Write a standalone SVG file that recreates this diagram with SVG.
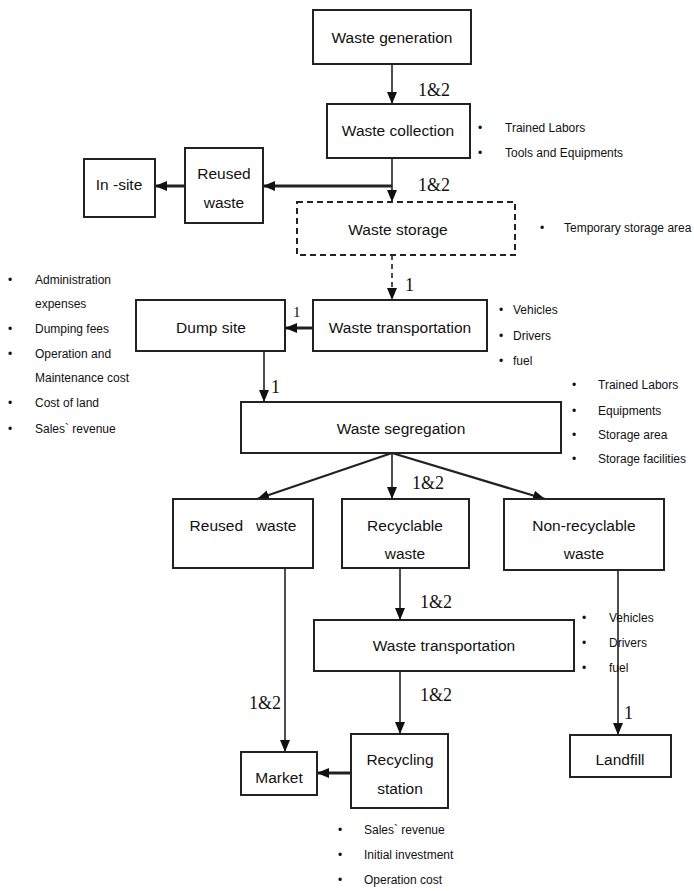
<svg xmlns="http://www.w3.org/2000/svg" width="694" height="891" viewBox="0 0 694 891">
<style>
.box{fill:#fff;stroke:#222;stroke-width:2}
.dash{fill:#fff;stroke:#222;stroke-width:2;stroke-dasharray:6,4}
.lbl{font-family:"Liberation Sans",Arial,sans-serif;font-size:15.5px;fill:#111;text-anchor:middle;dominant-baseline:central}
.bul{font-family:"Liberation Sans",Arial,sans-serif;font-size:12px;fill:#111;dominant-baseline:central}
.num{font-family:"Liberation Serif","Times New Roman",serif;font-size:18px;fill:#111;dominant-baseline:central}
.c{fill:none;stroke:#222;stroke-width:1.6}
.t{fill:none;stroke:#222;stroke-width:3}
.d{fill:none;stroke:#222;stroke-width:1.6;stroke-dasharray:5,4}
</style>
<defs>
<marker id="ah" markerUnits="userSpaceOnUse" markerWidth="12" markerHeight="10" refX="12" refY="5" orient="auto">
<path d="M0,0 L12,5 L0,10 z" fill="#111"/>
</marker>
</defs>
<rect width="694" height="891" fill="#fff"/>

<g id="connectors">
<path class="c" d="M392,64 V104" marker-end="url(#ah)"/>
<path class="c" d="M392,158 V202" marker-end="url(#ah)"/>
<path class="t" d="M392,186 H263" marker-end="url(#ah)"/>
<path class="t" d="M185,186 H155" marker-end="url(#ah)"/>
<path class="d" d="M392,255 V300" marker-end="url(#ah)"/>
<path class="t" d="M313,328 H285" marker-end="url(#ah)"/>
<path class="c" d="M264,351 V402" marker-end="url(#ah)"/>
<path class="c" d="M392,453 L257,499" marker-end="url(#ah)" style="stroke-width:2.2"/>
<path class="c" d="M392,453 V499" marker-end="url(#ah)"/>
<path class="c" d="M392,453 L545,499" marker-end="url(#ah)" style="stroke-width:2.2"/>
<path class="c" d="M400,568 V620" marker-end="url(#ah)"/>
<path class="c" d="M285,568 V752" marker-end="url(#ah)"/>
<path class="c" d="M618,570 V735" marker-end="url(#ah)"/>
<path class="c" d="M400,671 V734" marker-end="url(#ah)"/>
<path class="t" d="M351,773 H317" marker-end="url(#ah)"/>
<text class="num" x="418" y="90">1&amp;2</text>
<text class="num" x="418" y="185">1&amp;2</text>
<text class="num" x="405" y="285">1</text>
<text class="num" x="293" y="312" style="font-size:15px">1</text>
<text class="num" x="271" y="387">1</text>
<text class="num" x="412" y="483">1&amp;2</text>
<text class="num" x="420" y="602">1&amp;2</text>
<text class="num" x="249" y="703">1&amp;2</text>
<text class="num" x="420" y="695">1&amp;2</text>
<text class="num" x="624" y="713">1</text>
</g>

<g id="waste-generation"><rect class="box" x="313" y="10" width="158" height="54"/><text class="lbl" x="392" y="37">Waste generation</text></g>
<g id="waste-collection"><rect class="box" x="327" y="104" width="143" height="54"/><text class="lbl" x="398" y="130">Waste collection</text></g>
<g id="collection-notes">
<text class="bul" x="478" y="128">•</text><text class="bul" x="505" y="128">Trained Labors</text>
<text class="bul" x="478" y="153">•</text><text class="bul" x="505" y="153">Tools and Equipments</text>
</g>
<g id="reused-waste-top"><rect class="box" x="185" y="148" width="78" height="75"/><text class="lbl" x="224" y="173">Reused</text><text class="lbl" x="224" y="202">waste</text></g>
<g id="in-site"><rect class="box" x="84" y="159" width="71" height="58"/><text class="lbl" x="119" y="184">In -site</text></g>
<g id="waste-storage"><rect class="dash" x="297" y="202" width="218" height="53"/><text class="lbl" x="398" y="229">Waste storage</text></g>
<g id="storage-notes"><text class="bul" x="540" y="228">•</text><text class="bul" x="564" y="228">Temporary storage area</text></g>
<g id="waste-transportation-1"><rect class="box" x="313" y="300" width="174" height="51"/><text class="lbl" x="400" y="327">Waste transportation</text></g>
<g id="transport1-notes">
<text class="bul" x="499" y="310">•</text><text class="bul" x="513" y="310">Vehicles</text>
<text class="bul" x="499" y="336">•</text><text class="bul" x="513" y="336">Drivers</text>
<text class="bul" x="499" y="361">•</text><text class="bul" x="513" y="361">fuel</text>
</g>
<g id="dump-site"><rect class="box" x="136" y="300" width="149" height="51"/><text class="lbl" x="211" y="327">Dump site</text></g>
<g id="dump-notes">
<text class="bul" x="8" y="280">•</text><text class="bul" x="35" y="280">Administration</text>
<text class="bul" x="35" y="304">expenses</text>
<text class="bul" x="8" y="329">•</text><text class="bul" x="35" y="329">Dumping fees</text>
<text class="bul" x="8" y="354">•</text><text class="bul" x="35" y="354">Operation and</text>
<text class="bul" x="35" y="378">Maintenance cost</text>
<text class="bul" x="8" y="403">•</text><text class="bul" x="35" y="403">Cost of land</text>
<text class="bul" x="8" y="429">•</text><text class="bul" x="35" y="429">Sales` revenue</text>
</g>
<g id="waste-segregation"><rect class="box" x="241" y="402" width="320" height="51"/><text class="lbl" x="401" y="428">Waste segregation</text></g>
<g id="segregation-notes">
<text class="bul" x="572" y="385">•</text><text class="bul" x="598" y="385">Trained Labors</text>
<text class="bul" x="572" y="411">•</text><text class="bul" x="598" y="411">Equipments</text>
<text class="bul" x="572" y="435">•</text><text class="bul" x="598" y="435">Storage area</text>
<text class="bul" x="572" y="459">•</text><text class="bul" x="598" y="459">Storage facilities</text>
</g>
<g id="reused-waste"><rect class="box" x="173" y="499" width="140" height="69"/><text class="lbl" x="243" y="525" xml:space="preserve">Reused   waste</text></g>
<g id="recyclable-waste"><rect class="box" x="342" y="499" width="127" height="69"/><text class="lbl" x="405" y="525">Recyclable</text><text class="lbl" x="405" y="553">waste</text></g>
<g id="non-recyclable-waste"><rect class="box" x="504" y="499" width="160" height="71"/><text class="lbl" x="584" y="525">Non-recyclable</text><text class="lbl" x="584" y="553">waste</text></g>
<g id="waste-transportation-2"><rect class="box" x="314" y="620" width="260" height="51"/><text class="lbl" x="444" y="645">Waste transportation</text></g>
<g id="transport2-notes">
<text class="bul" x="582" y="618">•</text><text class="bul" x="609" y="618">Vehicles</text>
<text class="bul" x="582" y="643">•</text><text class="bul" x="609" y="643">Drivers</text>
<text class="bul" x="582" y="668">•</text><text class="bul" x="609" y="668">fuel</text>
</g>
<g id="market"><rect class="box" x="241" y="752" width="76" height="43"/><text class="lbl" x="279" y="777">Market</text></g>
<g id="recycling-station"><rect class="box" x="351" y="734" width="97" height="74"/><text class="lbl" x="400" y="759">Recycling</text><text class="lbl" x="400" y="788">station</text></g>
<g id="recycling-notes">
<text class="bul" x="338" y="830">•</text><text class="bul" x="364" y="830">Sales` revenue</text>
<text class="bul" x="338" y="855">•</text><text class="bul" x="364" y="855">Initial investment</text>
<text class="bul" x="338" y="880">•</text><text class="bul" x="364" y="880">Operation cost</text>
</g>
<g id="landfill"><rect class="box" x="570" y="735" width="101" height="42"/><text class="lbl" x="620" y="759">Landfill</text></g>
</svg>
